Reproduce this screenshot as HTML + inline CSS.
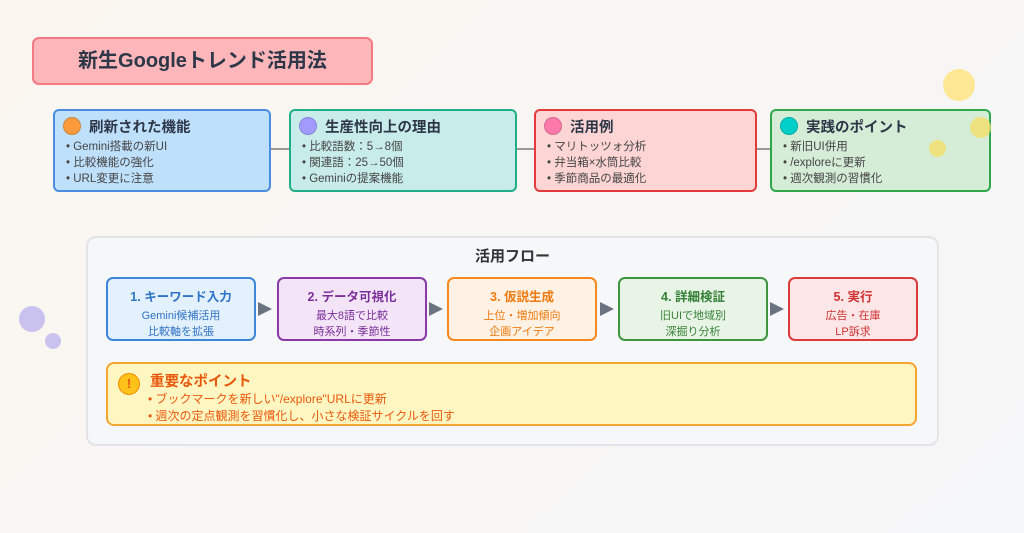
<!DOCTYPE html>
<html><head><meta charset="utf-8"><style>
*{margin:0;padding:0;box-sizing:border-box}
body{width:1024px;height:533px;overflow:hidden;background:linear-gradient(135deg,#fbf6f0,#f5f6f8);font-family:"Liberation Sans","Noto Sans CJK JP",sans-serif;position:relative;color:#333}
.a{position:absolute}
.title{left:32px;top:37px;width:341px;height:48px;background:#fdb7bb;border:2px solid #f47a84;border-radius:7px;font-size:20px;font-weight:bold;color:#2d3748;text-align:center;line-height:45px}
.card{top:109px;height:83px;border:2px solid;border-radius:6px;padding:4px 8px}
.card h3{font-size:14.5px;font-weight:bold;color:#2d3748;display:flex;align-items:center;height:22px;margin-bottom:2px}
.card h3 i{display:inline-block;width:18px;height:18px;border-radius:50%;margin-right:8px;border:1.5px solid rgba(0,0,0,.15)}
.card p{font-size:11.5px;line-height:16px;color:#444;padding-left:3px}
.line{height:2px;background:#999;top:148px}
.dot{border-radius:50%}
.flow{left:86px;top:236px;width:853px;height:210px;background:#f6f7f8;border:2px solid #e2e4e8;border-radius:10px}
.ft{left:86px;width:853px;top:245px;text-align:center;font-size:15px;font-weight:bold;color:#333}
.fb{top:277px;height:64px;width:150px;border:2px solid;border-radius:7px;text-align:center;font-size:11px;line-height:16px;padding-top:9px}
.fb b{font-size:12.5px;display:block;line-height:18px;margin-bottom:2px}
.arr{top:302px;width:0;height:0;border-top:7px solid transparent;border-bottom:7px solid transparent;border-left:14px solid #6b7280}
.imp{left:106px;top:362px;width:811px;height:64px;background:#fff6c2;border:2px solid #f4a430;border-radius:8px;color:#e8590c}
</style></head><body>
<div class="a title">新生Googleトレンド活用法</div>

<div class="a line" style="left:254px;width:36px"></div>
<div class="a line" style="left:500px;width:36px"></div>
<div class="a line" style="left:749px;width:22px"></div>

<div class="a card" style="left:53px;width:218px;background:#bfe0fb;border-color:#4a8de0"><h3><i style="background:#fb9a3c"></i>刷新された機能</h3><p>• Gemini搭載の新UI</p><p>• 比較機能の強化</p><p>• URL変更に注意</p></div>
<div class="a card" style="left:289px;width:228px;background:#c8ecea;border-color:#1fae86"><h3><i style="background:#a29bfe"></i>生産性向上の理由</h3><p>• 比較語数：5→8個</p><p>• 関連語：25→50個</p><p>• Geminiの提案機能</p></div>
<div class="a card" style="left:534px;width:223px;background:#fdd5d5;border-color:#e33b3b"><h3><i style="background:#fd79a8"></i>活用例</h3><p>• マリトッツォ分析</p><p>• 弁当箱×水筒比較</p><p>• 季節商品の最適化</p></div>
<div class="a card" style="left:770px;width:221px;background:#d5ecd7;border-color:#2ea84a"><h3><i style="background:#00cec9"></i>実践のポイント</h3><p>• 新旧UI併用</p><p>• /exploreに更新</p><p>• 週次観測の習慣化</p></div>

<div class="a dot" style="left:943px;top:69px;width:32px;height:32px;background:#fde58a;opacity:.9"></div>
<div class="a dot" style="left:970px;top:117px;width:21px;height:21px;background:#f3df6a;opacity:.8"></div>
<div class="a dot" style="left:929px;top:140px;width:17px;height:17px;background:#f3df6a;opacity:.8"></div>
<div class="a dot" style="left:19px;top:306px;width:26px;height:26px;background:#c9c2ef"></div>
<div class="a dot" style="left:45px;top:333px;width:16px;height:16px;background:#c9c2ef"></div>

<div class="a flow"></div>
<div class="a ft">活用フロー</div>
<div class="a fb" style="left:106px;background:#e3f0fd;border-color:#3d87db;color:#2f73c4"><b>1. キーワード入力</b>Gemini候補活用<br>比較軸を拡張</div>
<div class="a arr" style="left:258px"></div>
<div class="a fb" style="left:277px;background:#f3e5f7;border-color:#8a3aa8;color:#7b2f9a"><b>2. データ可視化</b>最大8語で比較<br>時系列・季節性</div>
<div class="a arr" style="left:429px"></div>
<div class="a fb" style="left:447px;background:#fff1e3;border-color:#f5891e;color:#ee7a10"><b>3. 仮説生成</b>上位・増加傾向<br>企画アイデア</div>
<div class="a arr" style="left:600px"></div>
<div class="a fb" style="left:618px;background:#e8f4e6;border-color:#3e953f;color:#347f36"><b>4. 詳細検証</b>旧UIで地域別<br>深掘り分析</div>
<div class="a arr" style="left:770px"></div>
<div class="a fb" style="left:788px;width:130px;background:#fde6e8;border-color:#db3b3b;color:#d03030"><b>5. 実行</b>広告・在庫<br>LP訴求</div>

<div class="a imp">
<div class="a dot" style="left:10px;top:9px;width:22px;height:22px;background:#ffc21a;border:1.5px solid #f08c00;color:#e8590c;text-align:center;font-size:13px;font-weight:bold;line-height:19px">!</div>
<div class="a" style="left:42px;top:6px;font-size:14.5px;font-weight:bold">重要なポイント</div>
<div class="a" style="left:40px;top:27px;font-size:12px;line-height:17px">• ブックマークを新しい"/explore"URLに更新<br>• 週次の定点観測を習慣化し、小さな検証サイクルを回す</div>
</div>
</body></html>
